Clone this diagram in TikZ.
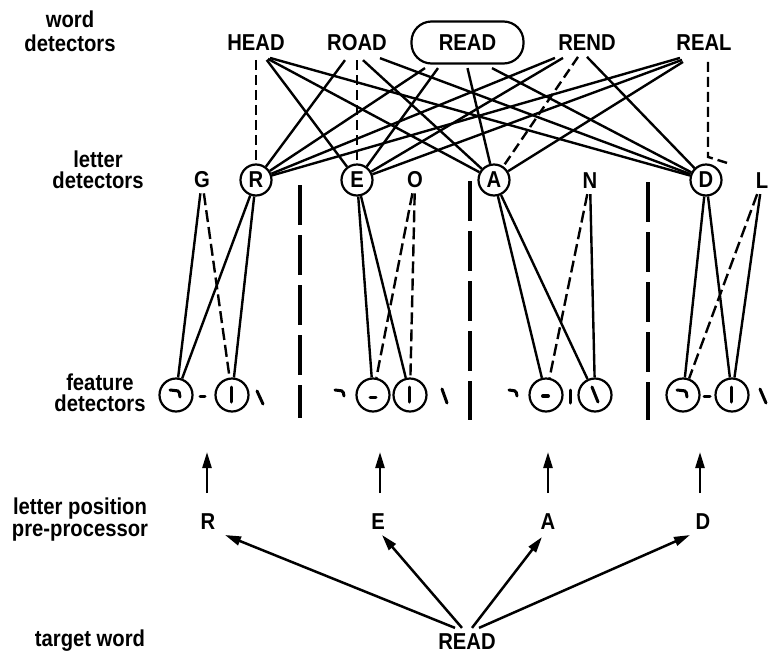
\documentclass[tikz,border=0pt]{standalone}
\usepackage{fontspec}
\setmainfont{Liberation Sans}[FakeStretch=0.88]
\usetikzlibrary{arrows.meta,calc}

\begin{document}
\begin{tikzpicture}[x=1pt,y=-1pt,
  every node/.style={font=\fontsize{23}{22}\selectfont\bfseries, inner sep=0pt},
  lbl/.style={align=center},
  sel/.style={draw, line width=2.2pt, rounded corners=20pt, minimum width=112pt, minimum height=42pt},
  ldet/.style={draw, circle, line width=2.2pt, minimum size=31pt},
  lalt/.style={inner sep=5pt},
  fdet/.style={draw, circle, line width=2.2pt, minimum size=33pt},
  exc/.style={line width=2.4pt},
  inh/.style={line width=2.4pt, dash pattern=on 10pt off 5pt},
  inhlow/.style={line width=2.4pt, dash pattern=on 12pt off 5pt},
  divider/.style={line width=3.4pt, dash pattern=on 40pt off 10pt},
  glyph/.style={line width=3pt, line cap=round, rounded corners=1.5pt},
  uparrow/.style={line width=2.5pt, -{Triangle[length=16pt,width=9pt]}},
]
\useasboundingbox (0,0) rectangle (769,654);

% level labels
\node[lbl, font=\fontsize{23}{24}\selectfont\bfseries] (Lword) at (70,31) {word\\detectors};
\node[lbl, font=\fontsize{23}{21}\selectfont\bfseries] (Lletter) at (98,170) {letter\\detectors};
\node[lbl, font=\fontsize{23}{21}\selectfont\bfseries] (Lfeat) at (100,393) {feature\\detectors};
\node[lbl, font=\fontsize{23}{22}\selectfont\bfseries] (Lpos) at (80,520) {letter position\\pre-processor};
\node[lbl] (Ltarget) at (90,641) {target word};

% word detectors
\node (HEAD) at (256,43) {HEAD};
\node (ROAD) at (357,43) {ROAD};
\node[sel] (READ) at (467.5,42.5) {READ};
\node (REND) at (587,43) {REND};
\node (REAL) at (704,43) {REAL};

% letter detectors
\node[lalt] (lG) at (202,180) {G};
\node[ldet] (lR) at (256,180) {R};
\node[ldet] (lE) at (357,180) {E};
\node[lalt] (lO) at (415,180) {O};
\node[ldet] (lA) at (494,180) {A};
\node[lalt] (lN) at (590,181) {N};
\node[ldet] (lD) at (706,180) {D};
\node[lalt] (lL) at (762,181) {L};

% feature detectors
\node[fdet] (f11) at (176,395) {};
\node[fdet] (f12) at (232,395) {};
\node[fdet] (f21) at (373,395) {};
\node[fdet] (f22) at (410,395) {};
\node[fdet] (f31) at (546,395) {};
\node[fdet] (f32) at (595,395) {};
\node[fdet] (f41) at (683,395) {};
\node[fdet] (f42) at (732,395) {};

% letter position pre-processor and target word
\node (pR) at (208,522) {R};
\node (pE) at (378,522) {E};
\node (pA) at (548,522) {A};
\node (pD) at (703,522) {D};
\node (tw) at (467,642) {READ};

% word -> letter connections
\draw[inh] ([yshift=-8.8pt]HEAD.south) -- (lR.north);
\draw[exc] ([xshift=10.7pt,yshift=-8.8pt]HEAD.south) -- (lE);
\draw[exc] ([xshift=12pt,yshift=-7.8pt]HEAD.south) -- (lA);
\draw[exc] ([xshift=14pt,yshift=-6.8pt]HEAD.south) -- (lD);

\draw[exc] ([xshift=-12pt,yshift=-8.8pt]ROAD.south) -- (lR);
\draw[inh] ([yshift=-8.8pt]ROAD.south) -- (lE.north);
\draw[exc] ([xshift=6pt,yshift=-8.8pt]ROAD.south) -- (lA);
\draw[exc] ([xshift=23pt,yshift=-6.8pt]ROAD.south) -- (lD);

\draw[exc] ([xshift=-42.5pt,yshift=-3.5pt]READ.south) -- (lR);
\draw[exc] ([xshift=-29.5pt,yshift=-3.5pt]READ.south) -- (lE);
\draw[exc] ([yshift=-3.5pt]READ.south) -- (lA);
\draw[exc] ([xshift=24.5pt,yshift=-3.5pt]READ.south) -- (lD);

\draw[exc] ([xshift=-32pt,yshift=-6.8pt]REND.south) -- (lR);
\draw[exc] ([xshift=-24pt,yshift=-6.8pt]REND.south) -- (lE);
\draw[inh] ([xshift=-9pt,yshift=-5.8pt]REND.south) -- (lA);
\draw[exc] ([yshift=-5.8pt]REND.south) -- (lD);

\draw[exc] ([xshift=-24pt,yshift=-6.8pt]REAL.south) -- (lR);
\draw[exc] ([xshift=-22pt,yshift=-8.8pt]REAL.south) -- (lE);
\draw[exc] ([xshift=-21pt,yshift=-10.8pt]REAL.south) -- (lA);
\draw[inh] ([xshift=4pt,yshift=-10.8pt]REAL.south) -- ++(0,95) -- ++(19,6);

% letter -> feature connections
\draw[exc] (lG) -- (f11);
\draw[inhlow] (lG) -- (f12);
\draw[exc] (lR) -- (f11);
\draw[exc] (lR) -- (f12);
\draw[exc] (lE) -- (f21);
\draw[exc] (lE) -- (f22);
\draw[inhlow] (lO) -- (f21);
\draw[inhlow] (lO) -- (f22);
\draw[exc] (lA) -- (f31);
\draw[exc] (lA) -- (f32);
\draw[inhlow] (lN) -- (f31);
\draw[exc] (lN) -- (f32);
\draw[exc] (lD) -- (f41);
\draw[exc] (lD) -- (f42);
\draw[inhlow] (lL) -- (f41);
\draw[exc] (lL) -- (f42);

% position dividers
\draw[divider] (300,185) -- (300,418);
\draw[divider] (470,181) -- (470,420);
\draw[divider] (648,182) -- (648,420);

% feature glyphs inside the detectors
\begin{scope}[shift={(f11.center)}]
  \draw[glyph] (-6,-5) -- (3,-4) -- (4,2);
\end{scope}
\begin{scope}[shift={(f12.center)}]
  \draw[glyph] (-1,-8) -- (-1,7);
\end{scope}
\begin{scope}[shift={(f21.center)}]
  \draw[glyph] (-3,2) -- (3,2);
\end{scope}
\begin{scope}[shift={(f22.center)}]
  \draw[glyph] (-1,-8) -- (-1,7);
\end{scope}
\begin{scope}[shift={(f31.center)}]
  \draw[glyph, line width=4pt] (-3,1) -- (2,1);
\end{scope}
\begin{scope}[shift={(f32.center)}]
  \draw[glyph] (-3,-8) -- (3,7);
\end{scope}
\begin{scope}[shift={(f41.center)}]
  \draw[glyph] (-6,-5) -- (3,-4) -- (4,2);
\end{scope}
\begin{scope}[shift={(f42.center)}]
  \draw[glyph] (-1,-8) -- (-1,7);
\end{scope}

% loose feature glyphs between the detectors
\draw[glyph] (200,396) -- (205,396);
\draw[glyph] (257,391) -- (263,404);
\draw[glyph] (335,390) -- (343,391) -- (344,396);
\draw[glyph] (442,389) -- (447,403);
\draw[glyph] (509,390) -- (516,391) -- (517,396);
\draw[glyph] (570,390) -- (570,403);
\draw[glyph] (704,396) -- (710,396);
\draw[glyph] (760,389) -- (766,403);

% pre-processor -> feature level arrows
\coordinate (aR) at (207,452);
\coordinate (aE) at (380,452);
\coordinate (aA) at (548,452);
\coordinate (aD) at (700,452);
\draw[uparrow] ([xshift=-1pt,yshift=20.7pt]pR.north) -- (aR);
\draw[uparrow] ([xshift=2pt,yshift=20.7pt]pE.north) -- (aE);
\draw[uparrow] ([yshift=20.7pt]pA.north) -- (aA);
\draw[uparrow] ([xshift=-3pt,yshift=20.7pt]pD.north) -- (aD);

% target word -> pre-processor arrows
\coordinate (tR) at (225,535);
\coordinate (tE) at (382,535);
\coordinate (tA) at (542,537);
\coordinate (tD) at (690,535);
\draw[uparrow] ([xshift=-12pt,yshift=6pt]tw.north) -- (tR);
\draw[uparrow] ([xshift=-5pt,yshift=6pt]tw.north) -- (tE);
\draw[uparrow] ([xshift=5pt,yshift=6pt]tw.north) -- (tA);
\draw[uparrow] ([xshift=12pt,yshift=6pt]tw.north) -- (tD);
\end{tikzpicture}
\end{document}
